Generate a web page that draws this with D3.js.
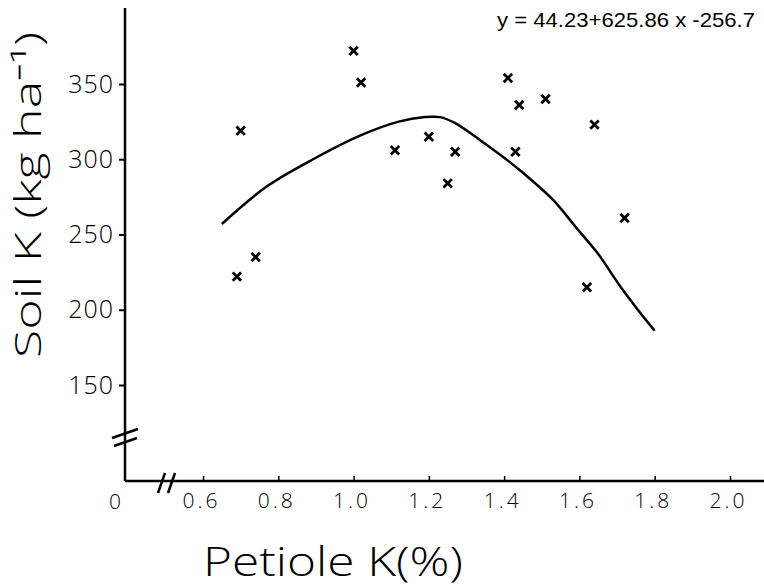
<!DOCTYPE html>
<html>
<head>
<meta charset="utf-8">
<script src="https://cdn.jsdelivr.net/npm/d3@7"></script>
<style>
  body { margin: 0; background: #fff; }
  svg { display: block; }
  text { fill: #000; font-family: "Open Sans", "DejaVu Sans", sans-serif; font-weight: 300; }
</style>
</head>
<body>
<div id="chart-ctn"></div>
<script>
// Observed points (petiole K %, soil K kg/ha)
let petioleK = [1.00, 1.02, 0.70, 1.11, 1.20, 1.27, 1.25, 0.74, 0.69, 1.41, 1.44, 1.51, 1.64, 1.43, 1.72, 1.62];
let soilK = [372, 351, 319, 306, 315, 305, 284, 235, 222, 354, 336, 340, 323, 305, 261, 215];

// Fitted curve as drawn on the sheet
let curveX = [0.65, 0.77, 0.90, 1.02, 1.12, 1.19, 1.23, 1.27, 1.34, 1.40, 1.45, 1.53, 1.59, 1.65, 1.71, 1.80];
let curveY = [257, 282, 301, 316, 325, 328, 328, 324, 312, 301, 291, 273, 255, 237, 215, 186];

let xTicks = [0.6, 0.8, 1.0, 1.2, 1.4, 1.6, 1.8, 2.0];
let yTicks = [150, 200, 250, 300, 350];
let equation = "y = 44.23+625.86 x -256.7";

let width = 764;
let height = 588;
let originX = 125;
let originY = 481;

let svg = d3.select("#chart-ctn")
    .append("svg")
    .attr("width", width)
    .attr("height", height);

let x = d3.scaleLinear().domain([0.6, 2.0]).range([203, 730]);
let y = d3.scaleLinear().domain([150, 350]).range([385, 84]);

// axis lines
svg.append("line")
    .attr("x1", originX).attr("y1", 8)
    .attr("x2", originX).attr("y2", originY)
    .attr("stroke", "#000").attr("stroke-width", 2.5);
svg.append("line")
    .attr("x1", originX).attr("y1", originY)
    .attr("x2", width).attr("y2", originY)
    .attr("stroke", "#000").attr("stroke-width", 2.5);

// x axis ticks + labels
let xAxis = svg.append("g")
    .attr("transform", `translate(0, ${originY})`)
    .call(d3.axisBottom(x).tickValues(xTicks).tickSize(-5).tickSizeOuter(0).tickPadding(12)
        .tickFormat(d3.format(".1f")));
xAxis.select(".domain").remove();
xAxis.selectAll(".tick line").attr("stroke", "#000").attr("stroke-width", 1.5);
xAxis.selectAll(".tick text")
    .style("font-size", "21px")
    .style("letter-spacing", "3px")
    .attr("dx", "-2");

// y axis ticks + labels
let yAxis = svg.append("g")
    .attr("transform", `translate(${originX}, 0)`)
    .call(d3.axisLeft(y).tickValues(yTicks).tickSize(6).tickSizeOuter(0).tickPadding(5));
yAxis.select(".domain").remove();
yAxis.selectAll(".tick line").attr("stroke", "#000").attr("stroke-width", 2);
yAxis.selectAll(".tick text")
    .style("font-size", "25px")
    .style("letter-spacing", "1px");

// origin label
svg.append("text")
    .attr("x", 115).attr("y", originY + 28)
    .attr("text-anchor", "middle")
    .style("font-size", "21px")
    .text("0");

// axis break marks
let breakX = [[158, 493, 165, 473], [168, 493, 175, 473]];
let breakY = [[112, 438, 138, 429], [114, 446, 137, 438]];
svg.selectAll(".brk")
    .data(breakX.concat(breakY))
    .join("line")
    .attr("class", "brk")
    .attr("x1", (d) => d[0]).attr("y1", (d) => d[1])
    .attr("x2", (d) => d[2]).attr("y2", (d) => d[3])
    .attr("stroke", "#000").attr("stroke-width", 2.5);

// fitted curve
let curvePts = curveX.map((v, i) => [v, curveY[i]]);
svg.append("path")
    .datum(curvePts)
    .attr("fill", "none")
    .attr("stroke", "#000")
    .attr("stroke-width", 2.5)
    .attr("d", d3.line()
        .x((d) => x(d[0]))
        .y((d) => y(d[1]))
        .curve(d3.curveCatmullRom));

// cross markers
let pts = petioleK.map((v, i) => ({ px: v, sk: soilK[i] }));
svg.selectAll(".pt")
    .data(pts)
    .join("path")
    .attr("class", "pt")
    .attr("transform", (d) => `translate(${x(d.px)}, ${y(d.sk)})`)
    .attr("d", d3.symbol(d3.symbolX, 48))
    .attr("fill", "none")
    .attr("stroke", "#000")
    .attr("stroke-width", 2.8);

// equation
svg.append("text")
    .attr("x", 497).attr("y", 27)
    .attr("textLength", 258)
    .attr("lengthAdjust", "spacingAndGlyphs")
    .style("font-family", "'Liberation Sans Narrow', 'Liberation Sans', sans-serif")
    .style("font-weight", "400")
    .style("font-size", "21px")
    .text(equation);

// axis titles
svg.append("text")
    .attr("transform", "translate(41, 195) rotate(-90)")
    .attr("text-anchor", "middle")
    .attr("textLength", 326)
    .attr("lengthAdjust", "spacingAndGlyphs")
    .style("font-size", "36px")
    .text("Soil K  (kg ha⁻¹)");

svg.append("text")
    .attr("x", 203).attr("y", 576)
    .attr("textLength", 260)
    .attr("lengthAdjust", "spacingAndGlyphs")
    .style("font-size", "40px")
    .text("Petiole K(%)");
</script>
</body>
</html>
